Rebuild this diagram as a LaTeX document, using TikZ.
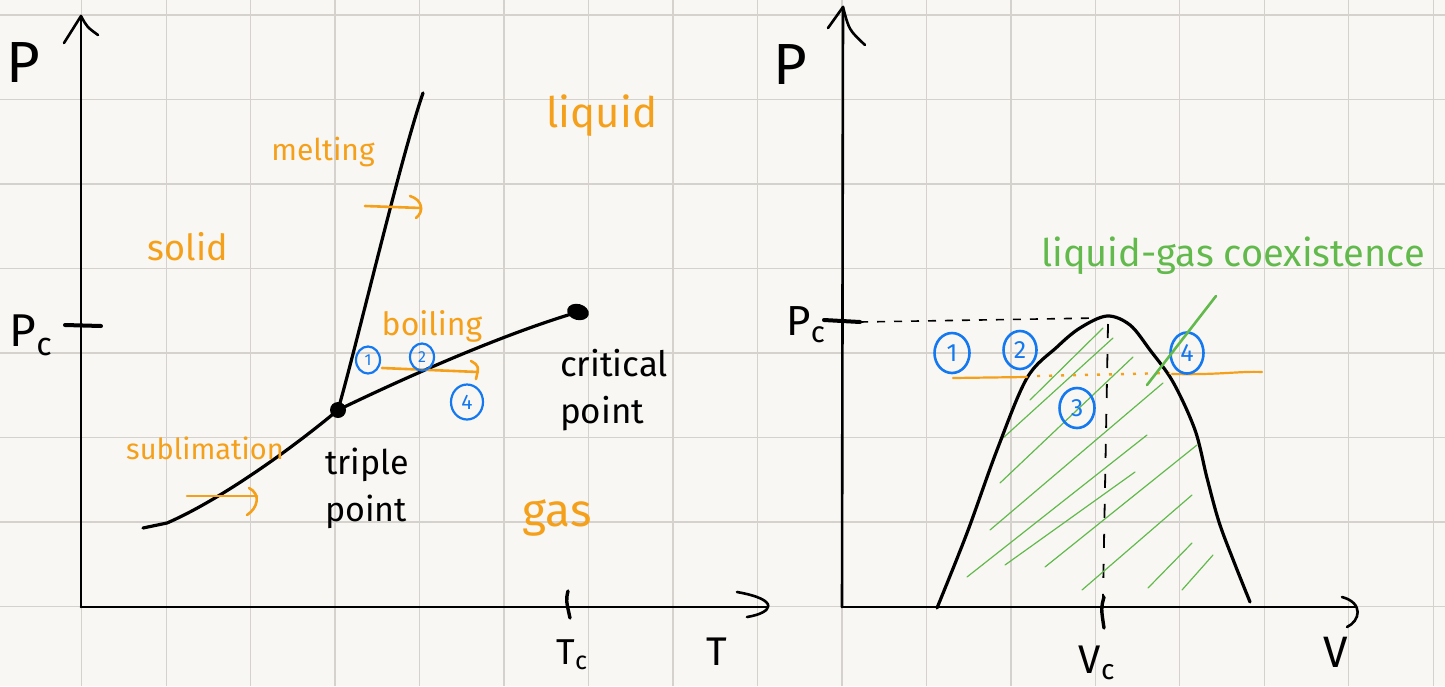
\documentclass[tikz,border=0pt]{standalone}
\usepackage{fontspec}
\setmainfont{Fira Sans}
\usetikzlibrary{shapes.geometric}
\definecolor{paper}{HTML}{F9F7F3}
\definecolor{gridc}{HTML}{D5D1CC}
\definecolor{hor}{HTML}{F5A01A}
\definecolor{hblue}{HTML}{1479F0}
\definecolor{hgreen}{HTML}{62B94C}
\newcommand{\hsz}[1]{\fontsize{#1}{#1}\selectfont}
\begin{document}
\begin{tikzpicture}[x=1pt,y=-1pt,
  gridline/.style={draw=gridc,line width=1.3},
  axis/.style={line width=2.6,line cap=round,line join=round},
  curve/.style={line width=3.2,line cap=round,line join=round},
  tick/.style={line width=4,line cap=round},
  oarrow/.style={draw=hor,line width=2.6,line cap=round,line join=round},
  hatch/.style={draw=hgreen,line width=1.2,line cap=round},
  lab/.style={inner sep=0pt,font=\hsz{#1}},
  ol/.style={lab=#1,text=hor},
  bl/.style={lab=#1,text=black},
  gl/.style={lab=#1,text=hgreen},
  bbig/.style={ellipse,draw=hblue,text=hblue,line width=2.6,inner sep=0pt,
    minimum width=35,minimum height=40,font=\hsz{25}},
  bsmall/.style={ellipse,draw=hblue,text=hblue,line width=2.2,inner sep=0pt,
    minimum width=24,minimum height=27,font=\hsz{16}}
]
\fill[paper] (0,0) rectangle (1445,686);
\useasboundingbox (0,0) rectangle (1445,686);
\foreach \i in {0,...,16} \draw[gridline] ({81.7+84.47*\i},0) -- ({81.7+84.47*\i},686);
\foreach \j in {0,...,7} \draw[gridline] (0,{15+84.5*\j}) -- (1445,{15+84.5*\j});

% ---------- left panel: p-T diagram ----------
\coordinate (O1) at (81,607);
\coordinate (Ptip) at (81,16);
\coordinate (Ttip) at (768,607);
\draw[axis] (O1) -- (Ptip);
\draw[axis] (64,43) -- (Ptip) .. controls (87,27) .. (98,35);
\draw[axis] (O1) -- (Ttip);
\draw[axis] (737,592) .. controls (782,600) and (772,613) .. (747,617);
\draw[tick] (65,325) -- (101,326);
\draw[line width=3.4,line cap=round] (568,591) .. controls (566,600) .. (570,618);

\node[bl=58] (Pl) at (23,63) {P};
\node[bl=46] (Pcl) at (31,335) {P\textsubscript{c}};
\node[bl=36] (Tcl) at (572,655) {T\textsubscript{c}};
\node[bl=40] (Tl) at (717,652) {T};

\coordinate (tp) at (338,410);
\coordinate (cp) at (578,312);
\coordinate (sub0) at (143,528);
\coordinate (sub1) at (167,523);
\coordinate (melt) at (423,93);
\draw[curve] (sub0) -- (sub1) .. controls (220,500) and (290,450) .. (tp);
\draw[curve] (tp) .. controls (358,340) and (400,160) .. (melt);
\draw[curve] (tp) .. controls (400,380) and (500,335) .. (cp);
\fill (tp) circle (8);
\fill[rotate around={-15:(cp)}] (cp) ellipse (11 and 8);

\node[bl=35,align=left,font=\fontsize{35}{47}\selectfont] (critlab) at (614,390) {critical\\point};
\node[bl=34,align=left,font=\fontsize{34}{47}\selectfont] (triplab) at (367,488) {triple\\point};

\node[ol=42] (liq) at (602,116) {liquid};
\node[ol=30] (meltlab) at (323,152) {melting};
\node[ol=36] (sol) at (188,247) {solid};
\node[ol=32] (boil) at (432,326) {boiling};
\node[ol=29] (subl) at (205,448) {sublimation};
\node[ol=46] (gas) at (557,518) {gas};

% orange arrows
\coordinate (ma0) at (365,206); \coordinate (ma1) at (421,208);
\draw[oarrow] (ma0) -- (ma1);
\draw[oarrow] (410,196) .. controls (423,200) and (424,212) .. (416,218);
\coordinate (sa0) at (187,496); \coordinate (sa1) at (257,496);
\draw[oarrow] (sa0) -- (sa1);
\draw[oarrow] (249,488) .. controls (261,494) and (258,508) .. (247,515);
\coordinate (ba0) at (382,368); \coordinate (ba1) at (478,372);
\draw[oarrow] (ba0) -- (ba1);
\draw[oarrow] (471,361) .. controls (479,366) .. (476,379);

\node[bsmall] (l1) at (368,360) {1};
\node[bsmall] (l2) at (422,357) {2};
\node[bsmall,minimum width=32,minimum height=35,font=\hsz{21}] (l4) at (467,402) {4};

% ---------- right panel: p-V diagram ----------
\coordinate (O2) at (842,607);
\coordinate (P2tip) at (843,7);
\coordinate (Vtip) at (1356,607);
\draw[axis] (O2) -- (P2tip);
\draw[axis] (828,28) -- (P2tip) .. controls (849,30) .. (865,45);
\draw[axis] (O2) -- (Vtip);
\draw[axis] (1342,597) .. controls (1364,603) and (1360,621) .. (1347,627);
\draw[tick] (824,320) -- (860,322);
\draw[line width=3.4,line cap=round] (1104,597) .. controls (1101,608) .. (1104,628);

\node[bl=58] (P2l) at (790,65) {P};
\node[bl=42] (Pc2l) at (806,325) {P\textsubscript{c}};
\node[bl=40] (Vcl) at (1097,663) {V\textsubscript{c}};
\node[bl=44] (Vl) at (1336,652) {V};

\coordinate (peak) at (1107,316);
\coordinate (vcb) at (1103,597);
\draw[line width=1.6,dash pattern=on 8pt off 9pt] (860,322) -- (1098,318);
\draw[line width=1.8,dash pattern=on 14pt off 16pt] (1108,324) -- (vcb);

% hatching
\draw[hatch] (1030,400) -- (1103,328);
\draw[hatch] (1003,438) -- (1113,338);
\draw[hatch] (1000,483) -- (1133,357);
\draw[hatch] (990,530) -- (1163,383);
\draw[hatch] (967,577) -- (1147,435);
\draw[hatch] (1005,565) -- (1135,472);
\draw[hatch] (1045,567) -- (1197,445);
\draw[hatch] (1082,590) -- (1192,495);
\draw[hatch] (1148,588) -- (1192,543);
\draw[hatch] (1182,590) -- (1213,555);

\draw[curve] plot[smooth,tension=0.55] coordinates {(937,608) (967,533) (997,450) (1027,378) (1057,347) (1080,328) (peak) (1130,325) (1150,350) (1173,382) (1195,430) (1207,478) (1219,522) (1234,562) (1250,602)};

% orange isobar
\draw[draw=hor,line width=2.2,line cap=round] (953,378) -- (1027,377);
\draw[draw=hor,line width=2.4,dash pattern=on 3pt off 9pt] (1037,376) -- (1170,373);
\draw[draw=hor,line width=2.2,line cap=round] (1172,374) .. controls (1220,375) and (1240,371) .. (1262,372);

\node[bbig] (r1) at (952,353) {1};
\node[bbig,minimum width=33,minimum height=38] (r2) at (1020,350) {2};
\node[bbig] (r3) at (1077,408) {3};
\node[bbig,minimum width=33,minimum height=41] (r4) at (1187,353) {4};

\node[gl=38,anchor=base west] (coex) at (1041,266) {liquid-gas coexistence};
\coordinate (ptr0) at (1216,296);
\coordinate (ptr1) at (1147,385);
\draw[draw=hgreen,line width=2.6,line cap=round] (ptr0) -- (ptr1);
\end{tikzpicture}
\end{document}
